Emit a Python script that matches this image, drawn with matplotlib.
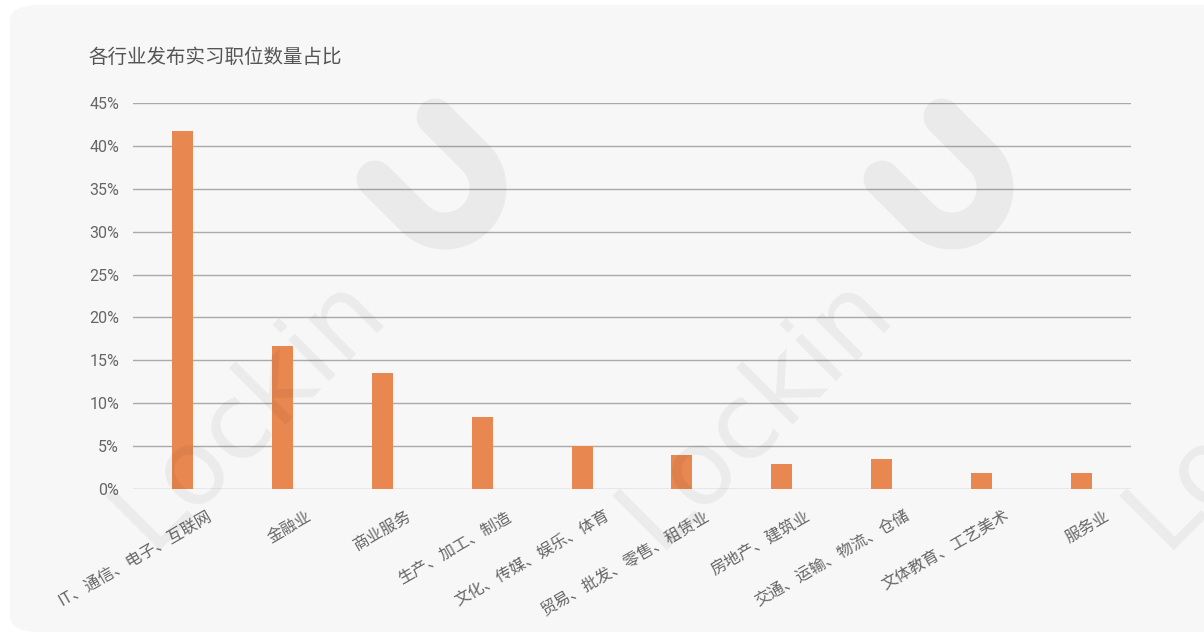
import numpy as np
import matplotlib
matplotlib.use("Agg")
import matplotlib.pyplot as plt
from matplotlib.patches import FancyBboxPatch
from matplotlib.lines import Line2D
from matplotlib.transforms import ScaledTranslation

plt.rcParams['font.family'] = ['Noto Sans CJK SC', 'DejaVu Sans']

# donnees
categories = ["IT、通信、电子、互联网", "金融业", "商业服务", "生产、加工、制造",
              "文化、传媒、娱乐、体育", "贸易、批发、零售、租赁业", "房地产、建筑业",
              "交通、运输、物流、仓储", "文体教育、工艺美术", "服务业"]
values = [41.7, 16.7, 13.5, 8.4, 5.0, 4.0, 2.9, 3.5, 1.9, 1.9]
yticks = [0, 5, 10, 15, 20, 25, 30, 35, 40, 45]
title = "各行业发布实习职位数量占比"

W, H = 1204, 635
fig = plt.figure(figsize=(W / 100, H / 100), dpi=100)
fig.patch.set_facecolor("white")


def px(x, y):
    # pixels de l'image -> fraction de figure
    return x / W, 1 - y / H


# le panneau gris arrondi (sous les axes)
panel = FancyBboxPatch(px(10, 632), (1240 - 10) / W, (632 - 5) / H,
                       boxstyle="round,pad=0,rounding_size=0.025",
                       transform=fig.transFigure, facecolor="#f7f7f7",
                       edgecolor="none", zorder=-5)
fig.patches.append(panel)

ax = fig.add_axes([133 / W, 1 - 489 / H, (1131 - 133) / W, (489 - 103) / H])
ax.set_facecolor("none")
ax.set_zorder(1)

x = np.arange(len(categories))
ax.bar(x, values, width=0.21, color="#e8874f", zorder=3)

ax.set_xlim(-0.5, len(categories) - 0.5)
ax.set_ylim(0, 45)
ax.set_yticks(yticks)
ax.set_yticklabels([f"{v}%" for v in yticks], family=['Roboto', 'DejaVu Sans'],
                   fontsize=11.5, color="#666666")
ax.grid(axis="y", color="#aaaaaa", lw=1, zorder=1)
ax.tick_params(axis="y", length=0, pad=10)
ax.tick_params(axis="x", length=0)
for s in ax.spines.values():
    s.set_visible(False)

ax.set_xticks(x)
ax.set_xticklabels(categories, rotation=30, rotation_mode="anchor",
                   ha="right", va="top", fontsize=11.5, color="#666666")
offset = ScaledTranslation(0.23, -0.14, fig.dpi_scale_trans)
for lab in ax.get_xticklabels():
    lab.set_transform(lab.get_transform() + offset)

fig.text(*px(88, 57), title, fontsize=14, color="#555555", va="center", ha="left")

# filigrane "Lockin" + logo en U, repete tous les 507 px
for k in range(-1, 3):
    dx = 507 * k
    if k >= 0:
        fig.text(*px(150 + dx, 550), "Lockin", fontsize=76, rotation=45,
                 rotation_mode="anchor", ha="left", va="baseline",
                 family=["DejaVu Sans"], color="k", alpha=0.05, zorder=10)
    cx, cy, r = 445 + dx, 188, 43
    ang = np.radians(np.linspace(-45, 135, 60))
    ux = np.concatenate([[435 + dx], cx + r * np.cos(ang), [375 + dx]])
    uy = np.concatenate([[117], cy + r * np.sin(ang), [179]])
    fx, fy = ux / W, 1 - uy / H
    fig.lines.append(Line2D(fx, fy, transform=fig.transFigure, color="k",
                            alpha=0.05, lw=26.6, solid_capstyle="round", zorder=10))

fig.savefig("out.png", dpi=100)
